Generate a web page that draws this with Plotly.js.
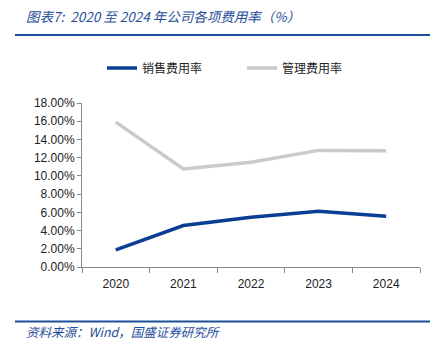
<!DOCTYPE html>
<html><head><meta charset="utf-8">
<script src="https://cdn.plot.ly/plotly-3.0.1.min.js"></script>
<style>html,body{margin:0;padding:0;background:#fff;}#chart{width:440px;height:353px;}</style>
</head><body><div id="chart"></div>
<script>
const years = ['2020','2021','2022','2023','2024'];
const salesRate = [1.87, 4.55, 5.47, 6.13, 5.58];
const adminRate = [15.9, 10.75, 11.5, 12.8, 12.75];
const seriesNames = ['销售费用率','管理费用率'];
const yTicks = [0,2,4,6,8,10,12,14,16,18];
const titleText = '图表7:  2020 至 2024 年公司各项费用率（%）';
const sourceText = '资料来源：Wind，国盛证券研究所';

const L=82, R=420, T=103, B=267;
const W=R-L, H=B-T;
const px = x => (x-L)/W;
const py = y => (B-y)/H;
const blue='#1F4E99';
const legFont = {family:'"Noto Sans CJK SC", sans-serif', size:12, color:'#222'};

const data = [
  {x: years, y: salesRate, name: seriesNames[0], type:'scatter', mode:'lines',
   line:{color:'#0A3E94', width:3.5}, legend:'legend'},
  {x: years, y: adminRate, name: seriesNames[1], type:'scatter', mode:'lines',
   line:{color:'#CACACA', width:3.5}, legend:'legend2'}
];
const layout = {
  width:440, height:353,
  margin:{l:L, r:440-R, t:T, b:353-B, pad:0},
  paper_bgcolor:'#fff', plot_bgcolor:'#fff',
  font:{family:'"Liberation Sans", Arial, "Noto Sans CJK SC", sans-serif', size:12, color:'#222'},
  showlegend:true,
  legend:{orientation:'h', xref:'container', yref:'container', x:102/440, y:1-68/353, yanchor:'middle',
    font:legFont, itemwidth:30},
  legend2:{orientation:'h', xref:'container', yref:'container', x:242/440, y:1-68/353, yanchor:'middle',
    font:legFont, itemwidth:30},
  xaxis:{type:'category', range:[-0.5,4.5], showline:true, linecolor:'#888', linewidth:1,
    ticks:'outside', tickson:'boundaries', ticklen:5, tickcolor:'#888', showgrid:false, zeroline:false,
    tickfont:{size:12, color:'#222'}, ticklabelstandoff:6},
  yaxis:{range:[0,18], tickvals:yTicks, ticktext:yTicks.map(v=>v.toFixed(2)+'%'),
    showline:true, linecolor:'#888', linewidth:1, ticks:'outside', ticklen:4, tickcolor:'#888',
    showgrid:false, zeroline:false, tickfont:{size:12, color:'#222'}},
  shapes:[
    {type:'line', xref:'paper', yref:'paper', x0:px(15), x1:px(430), y0:py(35), y1:py(35), line:{color:blue, width:2}},
    {type:'line', xref:'paper', yref:'paper', x0:px(15), x1:px(430), y0:py(321.5), y1:py(321.5), line:{color:blue, width:2}}
  ],
  annotations:[
    {xref:'paper', yref:'paper', x:px(24), y:py(16), xanchor:'left', yanchor:'middle', showarrow:false,
     text:titleText, font:{family:'"Noto Sans CJK SC", sans-serif', size:13.5, color:blue, style:'italic'}},
    {xref:'paper', yref:'paper', x:px(24), y:py(331), xanchor:'left', yanchor:'middle', showarrow:false,
     text:sourceText, font:{family:'"Noto Sans CJK SC", sans-serif', size:12.5, color:blue, style:'italic'}}
  ]
};
Plotly.newPlot('chart', data, layout, {displayModeBar:false, staticPlot:true});
</script></body></html>
